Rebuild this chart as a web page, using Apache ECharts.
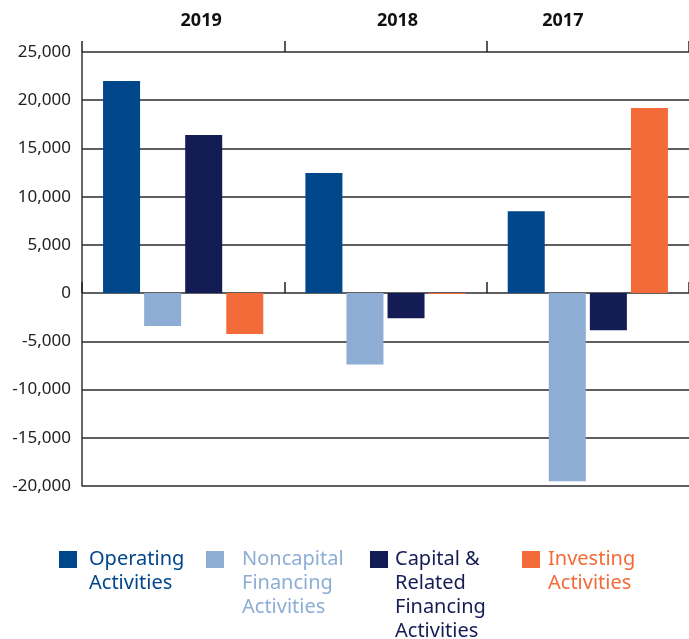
<!DOCTYPE html>
<html>
<head>
<meta charset="utf-8">
<script src="https://cdn.jsdelivr.net/npm/echarts@6/dist/echarts.min.js"></script>
<style>
  html, body { margin: 0; padding: 0; background: #fff; }
  #chart { width: 689px; height: 639px; }
</style>
</head>
<body>
<div id="chart"></div>
<script>
// years along the top axis
var years = ['2019', '2018', '2017'];
// y axis ticks
var yMin = -20000, yMax = 25000, yStep = 5000;

// series values, in the same order as years
var operating = [22000, 12450, 8500];
var noncapital = [-3400, -7400, -19500];
var capital = [16400, -2600, -3850];
var investing = [-4250, -100, 19200];

var names = ['Operating\nActivities', 'Noncapital\nFinancing\nActivities',
             'Capital &\nRelated\nFinancing\nActivities', 'Investing\nActivities'];
var colors = ['#00468b', '#8eadd5', '#141c55', '#f36b38'];

var font = 'Noto Sans';
var lineH = 24;
var chart = echarts.init(document.getElementById('chart'));

// one legend per item so each sits where it does in the picture.
// the icon is a square at the top of a box as tall as the text,
// so the first line of text lines up with the square
var legendLeft = [59, 206, 370, 522];
var textGap = [7, 13, 2, 3];
var legends = names.map(function (n, i) {
    var h = n.split('\n').length * lineH;
    return {
        data: [n],
        left: legendLeft[i],
        top: 547,
        padding: 0,
        icon: 'path://M0,0L0.1,0M0,4H18V21H0ZM0,' + h + 'L0.1,' + h,
        itemWidth: 18,
        itemHeight: h,
        selectedMode: false,
        textStyle: {
            color: colors[i],
            fontFamily: font,
            fontSize: 20,
            lineHeight: lineH,
            padding: [0, 0, 0, textGap[i]]
        }
    };
});

var data = [operating, noncapital, capital, investing];
var series = names.map(function (n, i) {
    return {
        name: n,
        type: 'bar',
        data: data[i],
        barWidth: 37,
        barGap: '11%',
        itemStyle: { color: colors[i] }
    };
});

var option = {
    animation: false,
    legend: legends,
    grid: {
        left: 82,
        right: 0,
        top: 52,
        bottom: 153
    },
    xAxis: [{
        type: 'category',
        position: 'top',
        data: [
            { value: years[0], textStyle: { padding: [0, 0, 0, 36] } },
            { value: years[1], textStyle: { padding: [0, 0, 0, 24] } },
            { value: years[2], textStyle: { padding: [0, 50, 0, 0] } }
        ],
        axisLine: { show: false, onZero: false },
        axisTick: {
            show: true,
            length: 11,
            lineStyle: { color: '#222', width: 1.5 }
        },
        axisLabel: {
            margin: 22,
            color: '#111',
            fontFamily: font,
            fontWeight: 'bold',
            fontSize: 18
        }
    }, {
        // same categories again, only for the small ticks on the zero line
        type: 'category',
        position: 'bottom',
        data: years,
        axisLine: { show: false, onZero: true },
        axisTick: {
            show: true,
            inside: true,
            length: 11,
            lineStyle: { color: '#222', width: 1.5 }
        },
        axisLabel: { show: false }
    }],
    yAxis: {
        type: 'value',
        min: yMin,
        max: yMax,
        interval: yStep,
        axisLine: { show: true, lineStyle: { color: '#333', width: 1.5 } },
        axisTick: { show: false },
        splitLine: { lineStyle: { color: '#2a2a2a', width: 1.5 } },
        axisLabel: {
            margin: 11,
            color: '#222',
            fontFamily: font,
            fontSize: 17,
            formatter: function (v) {
                return v.toLocaleString('en-US');
            }
        }
    },
    series: series
};

chart.setOption(option);
</script>
</body>
</html>
